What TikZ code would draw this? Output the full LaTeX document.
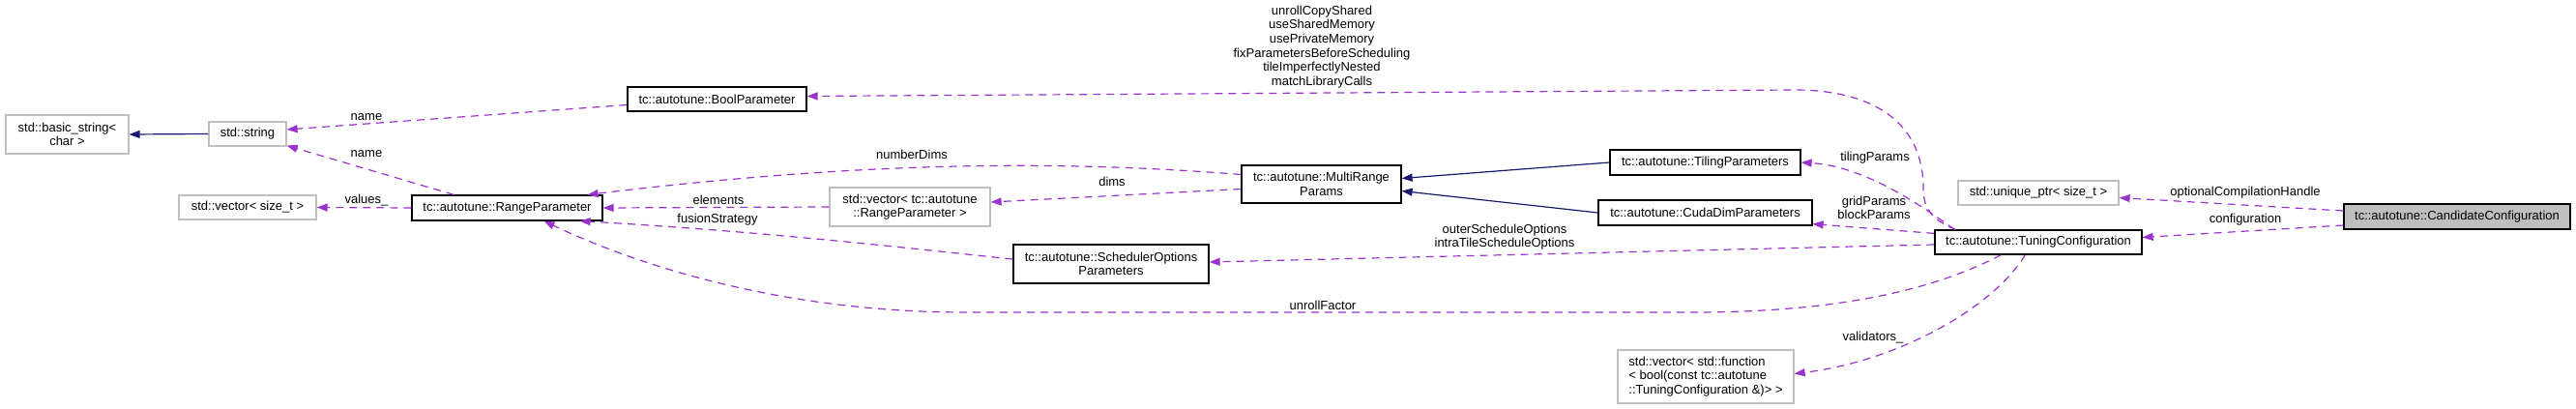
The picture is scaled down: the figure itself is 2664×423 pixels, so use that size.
\documentclass[tikz,border=0pt]{standalone}
\usepackage{fontspec}
\setmainfont{Liberation Sans}
\usetikzlibrary{arrows.meta,calc}
\definecolor{depc}{HTML}{9A32CD}
\definecolor{inhc}{HTML}{191970}
\definecolor{greyb}{HTML}{BFBFBF}
\tikzset{
  txt/.style={font=\fontsize{13}{14.6}\selectfont, align=center},
  cls/.style={txt, draw=black, line width=1.2pt, inner sep=0pt},
  ext/.style={txt, draw=greyb, line width=1.2pt, inner sep=0pt},
  cur/.style={cls, fill=greyb},
  lbl/.style={txt, inner sep=0pt},
  depedge/.style={draw=depc, line width=1.2pt, dash pattern=on 8pt off 6pt, -{Triangle[length=11pt,width=8pt]}},
  inhedge/.style={draw=inhc, line width=1.2pt, -{Triangle[length=11pt,width=8pt]}},
}
\begin{document}
\begin{tikzpicture}[x=1pt,y=-1pt]
\useasboundingbox (0,0) rectangle (2664,423);
% nodes
\node[ext, minimum width=127pt, minimum height=40pt] (bstr) at (69.5,139) {std::basic\_string<\\char >};
\node[ext, minimum width=80pt, minimum height=25pt] (str) at (256,138.5) {std::string};
\node[ext, minimum width=142pt, minimum height=25pt] (vsz) at (256,214.5) {std::vector< size\_t >};
\node[cls, minimum width=197pt, minimum height=26pt] (rp) at (524.5,215) {tc::autotune::RangeParameter};
\node[cls, minimum width=185pt, minimum height=25pt] (bp) at (741.5,102.5) {tc::autotune::BoolParameter};
\node[ext, minimum width=166pt, minimum height=40pt] (vrp) at (941,214) {std::vector< tc::autotune\\::RangeParameter >};
\node[cls, minimum width=165pt, minimum height=39pt] (mrp) at (1366.5,190.5) {tc::autotune::MultiRange\\Params};
\node[cls, minimum width=202pt, minimum height=40pt] (sop) at (1149,273) {tc::autotune::SchedulerOptions\\Parameters};
\node[cls, minimum width=197pt, minimum height=26pt] (tp) at (1763.5,168) {tc::autotune::TilingParameters};
\node[cls, minimum width=221pt, minimum height=26pt] (cdp) at (1763.5,220) {tc::autotune::CudaDimParameters};
\node[cls, minimum width=214pt, minimum height=25pt] (tc) at (2108,250.5) {tc::autotune::TuningConfiguration};
\node[ext, minimum width=166pt, minimum height=25pt] (up) at (2108,199.5) {std::unique\_ptr< size\_t >};
\node[cur, minimum width=234pt, minimum height=26pt] (cc) at (2541,224) {tc::autotune::CandidateConfiguration};
\node[ext, minimum width=182pt, minimum height=55pt, align=left] (vfn) at (1764,389.5) {std::vector< std::function\\< bool(const tc::autotune\\::TuningConfiguration \&)> >};
% inheritance
\draw[inhedge] (str.west) -- (bstr.east);
\draw[inhedge] (tp.west) -- ($(mrp.east)+(0,-6)$);
\draw[inhedge] (cdp.west) -- ($(mrp.east)+(0,7)$);
% usage
\draw[depedge] ($(bp.west)+(0,6)$) -- ($(str.east)+(0,-4.5)$);
\draw[depedge] ($(rp.north west)+(44,0)$) -- ($(str.south east)+(0,-1)$);
\draw[depedge] (rp.west) -- (vsz.east);
\draw[depedge] ($(mrp.west)+(0,-10)$) .. controls (1100,166) and (900,166) .. ($(rp.north east)+(-16,0)$);
\draw[depedge] (vrp.west) -- (rp.east);
\draw[depedge] ($(mrp.west)+(0,5)$) -- ($(vrp.east)+(0,-5)$);
\draw[depedge] ($(sop.west)+(0,-5)$) .. controls (950,258) and (800,240) .. ($(rp.south east)+(-24,0)$);
\draw[depedge] ($(tc.south west)+(69,0)$) .. controls (2000,300) and (1900,323) .. (1750,323) -- (1000,323) .. controls (800,323) and (650,270) .. ($(rp.south)+(38,0)$);
\draw[depedge] ($(tc.west)+(0,2.5)$) -- ($(sop.east)+(0,-2)$);
\draw[depedge] ($(tc.north west)+(21,0)$) .. controls (1990,215) and (1930,172) .. (tp.east);
\draw[depedge] ($(tc.north west)+(0,4)$) -- ($(cdp.south east)+(0,-2)$);
\draw[depedge] ($(tc.north west)+(22,0)$) .. controls (2000,228) and (1989,218) .. (1989,195) .. controls (1989,125) and (1935,93) .. (1856,93) -- ($(bp.east)+(0,-3)$);
\draw[depedge] ($(cc.west)+(0,-6)$) -- ($(up.east)+(0,5)$);
\draw[depedge] ($(cc.west)+(0,9)$) -- ($(tc.east)+(0,-5)$);
\draw[depedge] ($(tc.south west)+(94,0)$) .. controls (2060,320) and (1960,374) .. ($(vfn.east)+(0,-3)$);
% labels
\node[lbl] (lname1) at (379,121) {name};
\node[lbl] (lname2) at (379,159) {name};
\node[lbl] (lvalues) at (379,207) {values\_};
\node[lbl] (lnum) at (943,160) {numberDims};
\node[lbl] (lelem) at (743,207) {elements};
\node[lbl] (lfus) at (742,227) {fusionStrategy};
\node[lbl] (ldims) at (1150,188) {dims};
\node[lbl] (lunroll) at (1368,316) {unrollFactor};
\node[lbl] (lsched) at (1556,245) {outerScheduleOptions\\intraTileScheduleOptions};
\node[lbl] (ltiling) at (1939,163) {tilingParams};
\node[lbl] (lgrid) at (1938,215) {gridParams\\blockParams};
\node[lbl] (lbool) at (1367,48.5) {unrollCopyShared\\useSharedMemory\\usePrivateMemory\\fixParametersBeforeScheduling\\tileImperfectlyNested\\matchLibraryCalls};
\node[lbl] (lopt) at (2322,199) {optionalCompilationHandle};
\node[lbl] (lconf) at (2322,227) {configuration};
\node[lbl] (lval) at (1937,349) {validators\_};
\end{tikzpicture}
\end{document}
